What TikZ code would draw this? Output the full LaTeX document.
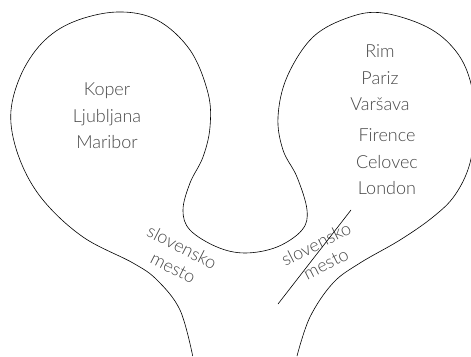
\documentclass[tikz,border=0pt]{standalone}
\usepackage{fontspec}
\setmainfont{Lato Light}
\begin{document}
\begin{tikzpicture}[x=1pt,y=-1pt,
  lbl/.style={text=black!72, font=\fontsize{18}{26.5}\selectfont, align=center, inner sep=0pt},
  small/.style={text=black!72, font=\fontsize{18}{19}\selectfont, inner sep=0pt},
  outline/.style={draw=black, line width=0.6pt}]
\useasboundingbox (0,0) rectangle (471,356);
\draw[outline] plot[smooth, tension=0.6] coordinates {
 (192.7,356) (180,310) (157,280) (133,263) (83,237) (43,200) (20,160) (10.7,117)
 (20,77) (42,43) (73,22) (117,12) (157,20) (190,50) (208,93) (210,127) (203,157)
 (190,183) (183,210) (190,230) (217,247) (245,253) (277,247) (302,230) (307,210)
 (297,177) (283,150) (278,117) (287,77) (313,37) (350,17) (383,13) (427,27)
 (455,50) (470,80) (475,120) (470,163) (455,195) (433,217) (400,240) (360,263) (333,283)
 (310,317) (297,356)};
\node[lbl] (left) at (107,116) {Koper\\Ljubljana\\Maribor};
\node[lbl] (r1) at (380,78) {Rim\\Pariz\\Varšava};
\node[lbl] (r2) at (387,162) {Firence\\Celovec\\London};
\node[small, rotate=-27] (sl1) at (182,247) {slovensko};
\node[small, rotate=-27] (sl2) at (173,268) {mesto};
\node[small, rotate=27] (sr1) at (316,244) {slovensko};
\node[small, rotate=27] (sr2) at (326,264) {mesto};
\coordinate (s1) at (278,304);
\coordinate (s2) at (351,210);
\draw[outline] (s1) -- (s2);
\end{tikzpicture}
\end{document}
